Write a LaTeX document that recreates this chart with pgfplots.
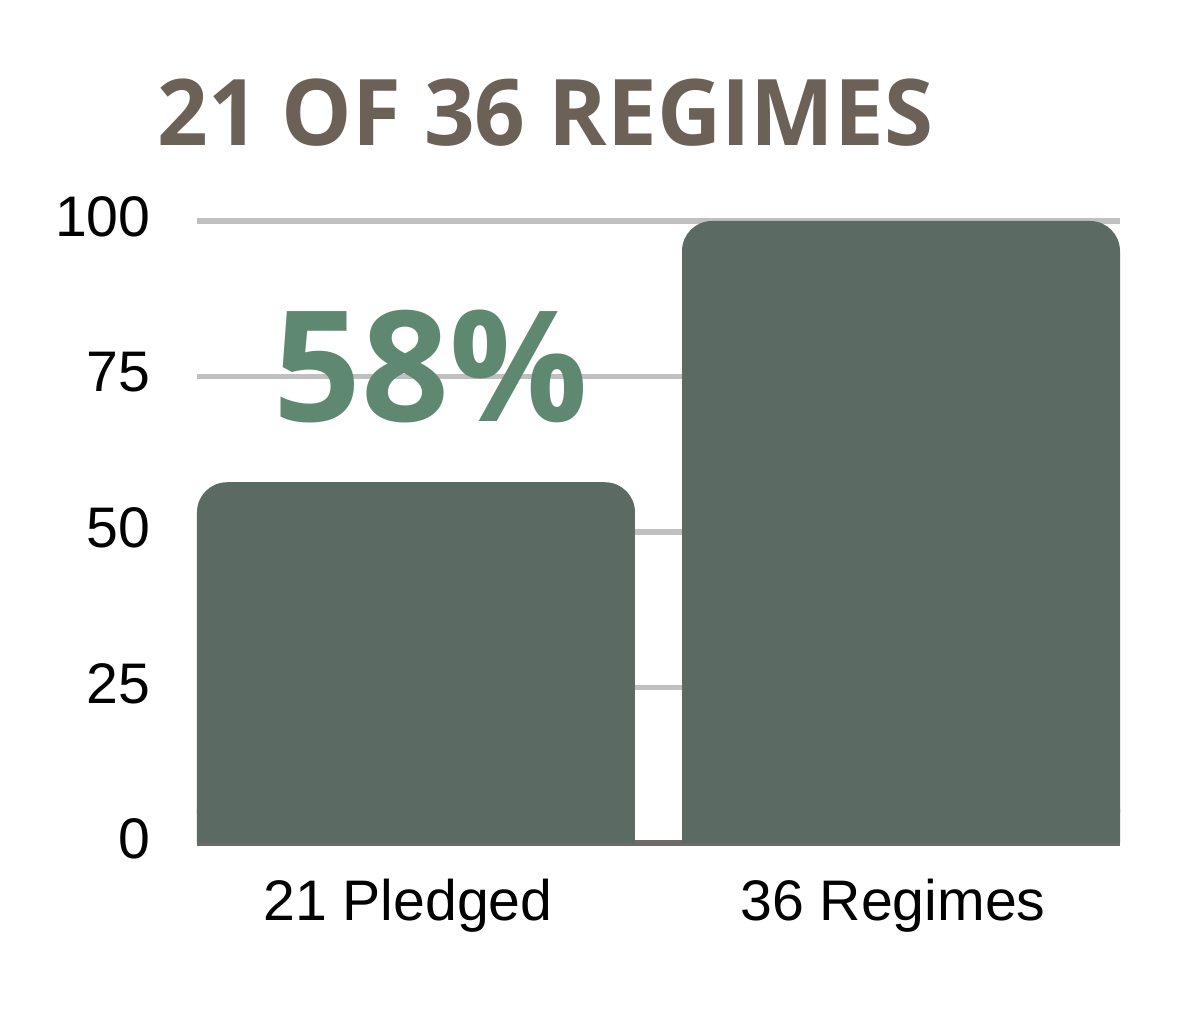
\documentclass[border=0pt]{standalone}
\usepackage{fontspec}
\setmainfont{Liberation Sans}
\newfontfamily\opensans{Open Sans}
\newfontfamily\opensanscond{Open Sans}[FakeStretch=0.965]
\usepackage{pgfplots}
\pgfplotsset{compat=1.18}

\definecolor{barcol}{HTML}{5C6A64}
\definecolor{titlecol}{HTML}{6B6157}
\definecolor{pctcol}{HTML}{5E8870}
\definecolor{gridcol}{HTML}{C0C0C0}
\definecolor{basecol}{HTML}{6E6A69}

\begin{document}
\begin{tikzpicture}
\begin{axis}[
    set layers,
    at={(0pt,0pt)}, anchor=south west,
    scale only axis,
    width=461.5pt, height=311pt,
    xmin=-0.4515, xmax=1.4515,
    ymin=0, ymax=100,
    xtick={0,1},
    xticklabels={21 Pledged, 36 Regimes},
    ytick={0,25,50,75,100},
    axis x line*=bottom,
    axis y line*=left,
    x axis line style={basecol, line width=2.6pt},
    y axis line style={draw=none},
    ymajorgrids,
    grid style={gridcol, line width=2.8pt},
    major tick length=0pt,
    /pgf/number format/assume math mode=true,
    tick label style={font=\fontsize{28.6}{31}\selectfont, inner sep=0pt},
    y tick label style={anchor=east, xshift=-23pt, yshift=2pt},
    x tick label style={anchor=north, yshift=-18pt, xshift=-4pt},
    ybar, bar width=0.903, bar shift=0pt,
]
\node[on layer=axis background, anchor=base, inner sep=0pt, text=pctcol,
      font=\opensans\bfseries\fontsize{77}{80}\selectfont]
  at (axis cs:0.03,67.7) {58\%};
% square base under each bar, rounded top on the full bar
\addplot[fill=barcol, draw=none] coordinates {(0,5.5) (1,5.5)};
\addplot[fill=barcol, draw=none, rounded corners=15pt] coordinates {(0,58) (1,100)};
\end{axis}
\node[anchor=base west, inner sep=0pt, text=titlecol,
      font=\opensanscond\bfseries\fontsize{46}{48}\selectfont]
  at (-20pt,348.5pt) {21 OF 36 REGIMES};
\pgfresetboundingbox
\useasboundingbox (-98.5pt,-89pt) rectangle (501.5pt,421.5pt);
\end{tikzpicture}
\end{document}
